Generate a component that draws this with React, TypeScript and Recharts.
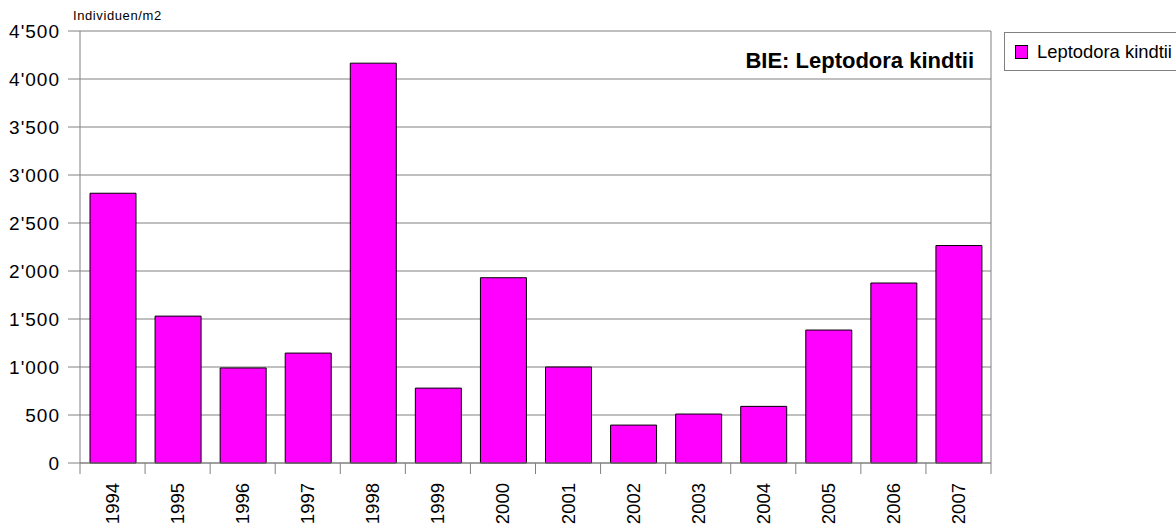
import { BarChart, Bar, XAxis, YAxis, CartesianGrid } from 'recharts'

const years = ['1994', '1995', '1996', '1997', '1998', '1999', '2000', '2001', '2002', '2003', '2004', '2005', '2006', '2007']
const kindtii = [2810, 1530, 990, 1145, 4165, 780, 1930, 1000, 395, 510, 590, 1385, 1875, 2265]
const yTicks = [0, 500, 1000, 1500, 2000, 2500, 3000, 3500, 4000, 4500]

const seriesName = 'Leptodora kindtii'
const chartTitle = 'BIE: Leptodora kindtii'
const unitLabel = 'Individuen/m2'

const data = years.map((year, i) => ({ year, kindtii: kindtii[i] }))

const GREY = '#808080'
const MAGENTA = '#ff00ff'
const FONT = '"Liberation Sans", Arial, sans-serif'

const X_TICK_SIZE = 11
const X_TICK_MARGIN = 9

// 4500 -> 4'500
const fmt = (v: number) => String(v).replace(/\B(?=(\d{3})+(?!\d))/g, "'")

function YearTick(props: any) {
  const { x, y, payload, index } = props
  const half = payload && payload.offset ? payload.offset : 32.5
  const y0 = y - X_TICK_MARGIN - X_TICK_SIZE
  const y1 = y - X_TICK_MARGIN
  return (
    <g>
      <line x1={x - half} x2={x - half} y1={y0} y2={y1} stroke={GREY} />
      {index === years.length - 1 && <line x1={x + half} x2={x + half} y1={y0} y2={y1} stroke={GREY} />}
      <text
        x={x}
        y={y}
        transform={`rotate(-90, ${x}, ${y})`}
        textAnchor="end"
        dominantBaseline="central"
        fontSize={18.5}
        fontFamily={FONT}
        fill="#000"
      >
        {payload.value}
      </text>
    </g>
  )
}

// legend sits outside the plot, clipped by the right edge like the original
function LegendBox() {
  return (
    <div
      style={{
        position: 'absolute',
        left: 1004,
        top: 32,
        border: `1px solid ${GREY}`,
        borderRight: 'none',
        height: 39,
        width: 190,
        boxSizing: 'border-box',
        display: 'flex',
        alignItems: 'center',
        paddingLeft: 10,
        fontFamily: FONT,
        fontSize: 18.4,
        color: '#000',
        whiteSpace: 'nowrap',
      }}
    >
      <span style={{ width: 11, height: 12, background: MAGENTA, border: '1px solid #000', marginRight: 9 }} />
      {seriesName}
    </div>
  )
}

export default function App() {
  return (
    <div style={{ width: 1176, height: 528, overflow: 'hidden', position: 'relative', background: '#fff' }}>
      <style>{'body{margin:0}'}</style>
      <BarChart width={1176} height={528} data={data} margin={{ top: 31, right: 175, bottom: 0, left: 0 }}>
        <CartesianGrid vertical={false} stroke={GREY} yAxisId="left" />
        <XAxis
          dataKey="year"
          height={65}
          tickSize={X_TICK_SIZE}
          tickMargin={X_TICK_MARGIN}
          tickLine={false}
          axisLine={{ stroke: GREY }}
          tick={<YearTick />}
          interval={0}
        />
        <YAxis
          yAxisId="left"
          width={80}
          domain={[0, 4500]}
          ticks={yTicks}
          interval={0}
          tickSize={12}
          tickMargin={8}
          tickFormatter={fmt}
          axisLine={{ stroke: GREY }}
          tickLine={{ stroke: GREY }}
          tick={{ fill: '#000', fontSize: 19, fontFamily: FONT, letterSpacing: 1 }}
          label={{
            content: (p: any) => (
              <text
                x={p.viewBox.x + p.viewBox.width - 7}
                y={p.viewBox.y - 11}
                fontSize={13}
                letterSpacing={0.6}
                fontFamily={FONT}
                fill="#000"
              >
                {unitLabel}
              </text>
            ),
          }}
        />
        <YAxis
          yAxisId="right"
          orientation="right"
          width={10}
          domain={[0, 4500]}
          tick={false}
          tickLine={false}
          axisLine={{ stroke: GREY }}
          label={{
            content: (p: any) => (
              <text
                x={p.viewBox.x - 17}
                y={p.viewBox.y + 37}
                textAnchor="end"
                fontSize={22}
                fontWeight="bold"
                fontFamily={FONT}
                fill="#000"
              >
                {chartTitle}
              </text>
            ),
          }}
        />
        <Bar
          yAxisId="left"
          dataKey="kindtii"
          name={seriesName}
          fill={MAGENTA}
          stroke="#000"
          strokeWidth={1}
          barSize={46}
          isAnimationActive={false}
        />
      </BarChart>
      <LegendBox />
    </div>
  )
}
